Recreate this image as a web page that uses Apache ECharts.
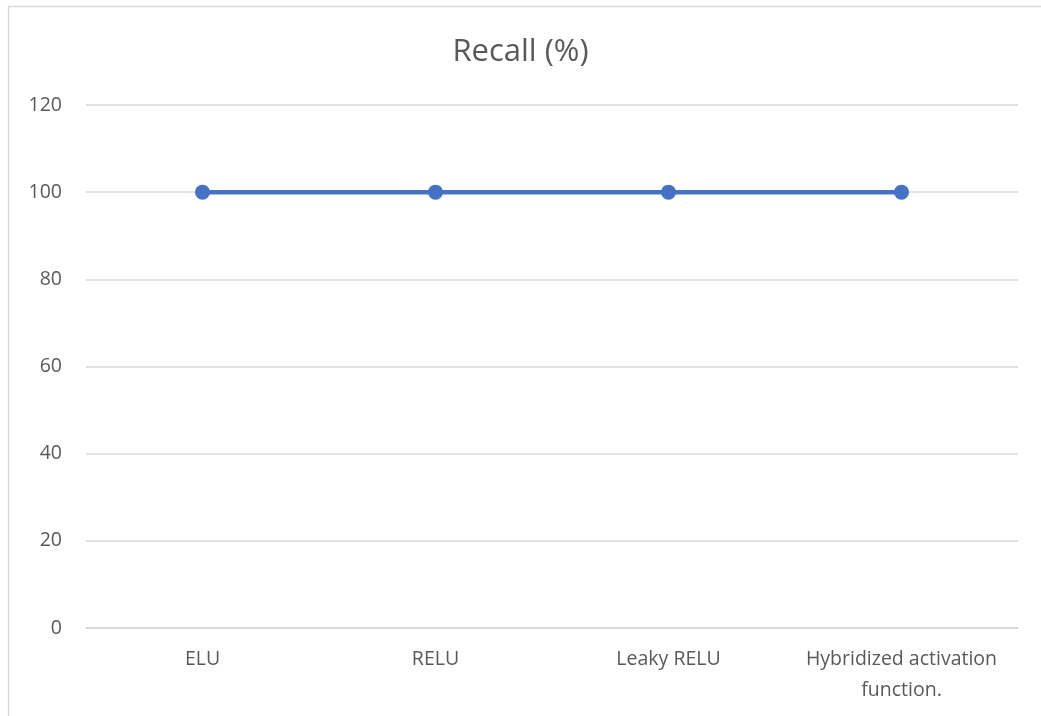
<!DOCTYPE html>
<html>
<head>
<meta charset="utf-8">
<script src="https://cdn.jsdelivr.net/npm/echarts@6/dist/echarts.min.js"></script>
<style>
  html, body { margin: 0; padding: 0; background: #fff; }
  #chart { width: 1041px; height: 716px; }
</style>
</head>
<body>
<div id="chart"></div>
<script>
// Recall per activation function
const categories = ['ELU', 'RELU', 'Leaky RELU', 'Hybridized activation\nfunction.'];
const recall = [100, 100, 100, 100];
const yTicks = { min: 0, max: 120, interval: 20 };

const font = '"Open Sans", Lato, sans-serif';
const chart = echarts.init(document.getElementById('chart'), null, { renderer: 'canvas' });

chart.setOption({
  backgroundColor: '#ffffff',
  animation: false,
  graphic: [{
    type: 'rect',
    shape: { x: 8.5, y: 6.5, width: 1100, height: 800 },
    style: { fill: 'none', stroke: '#d9d9d9', lineWidth: 1.5 },
    silent: true
  }],
  title: {
    text: 'Recall (%)',
    left: 'center',
    top: 32,
    textStyle: { fontFamily: font, fontSize: 31, fontWeight: 'normal', color: '#595959' }
  },
  grid: { left: 86, right: 23, top: 105, bottom: 88 },
  xAxis: {
    type: 'category',
    data: categories,
    boundaryGap: true,
    axisLine: { show: true, lineStyle: { color: '#d9d9d9', width: 1.5 } },
    axisTick: { show: false },
    axisLabel: {
      fontFamily: font, fontSize: 19.5, color: '#595959',
      margin: 16, lineHeight: 31, interval: 0
    },
    splitLine: { show: false }
  },
  yAxis: {
    type: 'value',
    min: yTicks.min,
    max: yTicks.max,
    interval: yTicks.interval,
    axisLine: { show: false },
    axisTick: { show: false },
    axisLabel: { fontFamily: font, fontSize: 19.5, color: '#595959', margin: 24 },
    splitLine: { lineStyle: { color: '#d9d9d9', width: 1.5 } }
  },
  series: [{
    type: 'line',
    data: recall,
    symbol: 'circle',
    symbolSize: 15,
    lineStyle: { color: '#4472c4', width: 4.5 },
    itemStyle: { color: '#4472c4' }
  }]
});
</script>
</body>
</html>
